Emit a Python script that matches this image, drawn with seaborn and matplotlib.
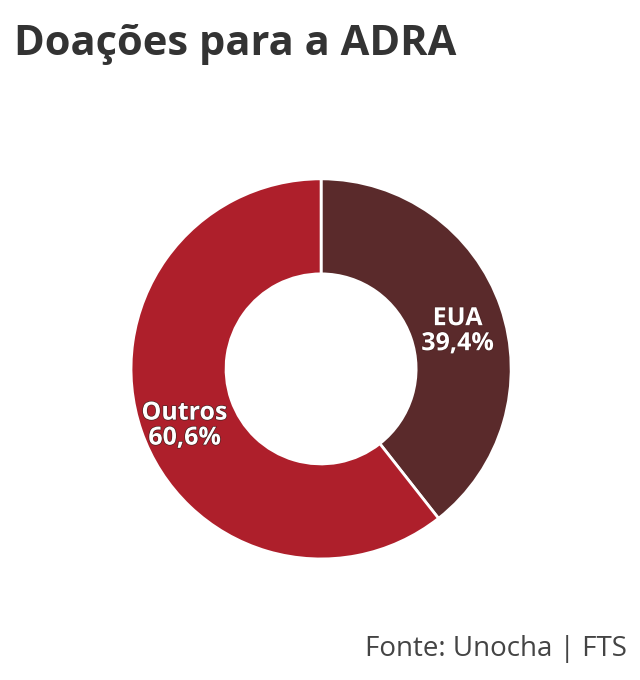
import matplotlib
matplotlib.use("Agg")
import matplotlib.pyplot as plt
import matplotlib.patheffects as pe
import seaborn as sns
import numpy as np

labels = ["EUA", "Outros"]
shares = [39.4, 60.6]
colors = ["#5a2a2b", "#ae1f2b"]

sns.set_theme(style="white")
plt.rcParams["font.family"] = ["Open Sans", "DejaVu Sans"]

fig = plt.figure(figsize=(6.4, 6.8), dpi=100)
fig.patch.set_facecolor("white")

ax = fig.add_axes([0.2047, 0.178, 0.594, 0.559])
wedges, _ = ax.pie(shares, colors=colors, startangle=90, counterclock=False,
                   radius=1, wedgeprops=dict(width=0.5, edgecolor="white", linewidth=2))
ax.set_xlim(-1, 1)
ax.set_ylim(-1, 1)
ax.set_aspect("equal")
ax.axis("off")

# labels placed at the middle of each ring segment
start = 90
for lab, val in zip(labels, shares):
    mid = np.deg2rad(start - val * 3.6 / 2)
    start -= val * 3.6
    r = 0.76
    txt = "{}\n{}%".format(lab, ("%.1f" % val).replace(".", ","))
    ax.text(r * np.cos(mid), r * np.sin(mid) - 0.05, txt, ha="center", va="center",
            color="white", fontsize=18, fontweight="bold", linespacing=1.0,
            path_effects=[pe.withStroke(linewidth=1, foreground="#4a2020")])

fig.text(0.022, 0.935, "Doações para a ADRA", fontsize=30, fontweight="bold",
         color="#333333", ha="left", va="center")
fig.text(0.98, 0.045, "Fonte: Unocha | FTS", fontsize=20, color="#444444",
         ha="right", va="center")

fig.savefig("out.png", dpi=100)
